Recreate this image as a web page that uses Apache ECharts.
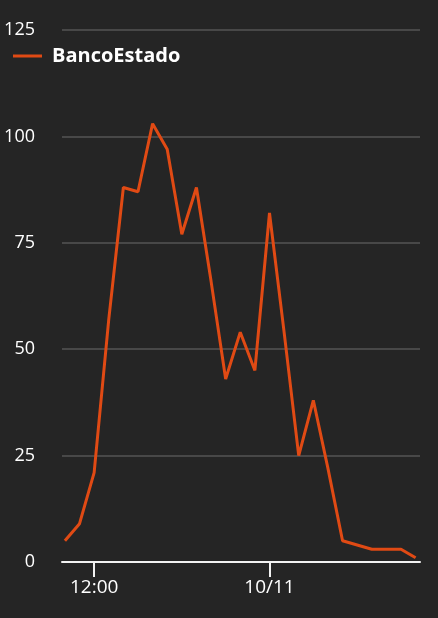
<!DOCTYPE html>
<html>
<head>
<meta charset="utf-8">
<script src="https://cdn.jsdelivr.net/npm/echarts@6/dist/echarts.min.js"></script>
<style>
  html, body { margin: 0; padding: 0; background: #252525; }
  #chart { width: 438px; height: 618px; }
</style>
</head>
<body>
<div id="chart"></div>
<script>
// hours since 10:00 on 10/10, one point per hour
const hours = [0, 1, 2, 3, 4, 5, 6, 7, 8, 9, 10, 11, 12, 13, 14, 15, 16, 17, 18, 19, 20, 21, 22, 23, 24]
const bancoEstado = [5, 9, 21, 57, 88, 87, 103, 97, 77, 88, 66, 43, 54, 45, 82, 54, 25, 38, 22, 5, 4, 3, 3, 3, 1]
const seriesName = 'BancoEstado'

// x tick positions (hours) and their labels
const xTickValues = [2, 14]
const xTickLabels = ['12:00', '10/11']
const yTicks = [0, 25, 50, 75, 100, 125]

const chart = echarts.init(document.getElementById('chart'))

chart.setOption({
  backgroundColor: '#252525',
  textStyle: { fontFamily: 'Open Sans' },
  animation: false,
  legend: {
    left: 8,
    top: 41,
    icon: 'rect',
    itemWidth: 29,
    itemHeight: 3,
    itemGap: 10,
    textStyle: {
      color: '#fff', fontSize: 20, fontWeight: 'bold', fontFamily: 'Open Sans',
      padding: [0, 0, 0, 5]
    },
    data: [seriesName]
  },
  grid: { left: 62, right: 18, top: 30, bottom: 56 },
  xAxis: {
    type: 'value',
    min: -0.2,
    max: 24.3,
    splitLine: { show: false },
    axisLine: { show: true, onZero: false, lineStyle: { color: '#f2f2f2', width: 2 } },
    axisTick: {
      show: true,
      length: 15,
      customValues: xTickValues,
      lineStyle: { color: '#f2f2f2', width: 2 }
    },
    axisLabel: {
      color: '#fff',
      fontSize: 19,
      margin: 16,
      customValues: xTickValues,
      formatter: (v) => xTickLabels[xTickValues.indexOf(v)]
    }
  },
  yAxis: {
    type: 'value',
    min: yTicks[0],
    max: yTicks[yTicks.length - 1],
    interval: 25,
    axisLine: { show: false },
    axisTick: { show: false },
    axisLabel: { color: '#fff', fontSize: 18, margin: 27 },
    splitLine: { lineStyle: { color: '#555', width: 1.5 } }
  },
  series: [{
    name: seriesName,
    type: 'line',
    data: hours.map((h, i) => [h, bancoEstado[i]]),
    showSymbol: false,
    color: '#e04a14',
    lineStyle: { color: '#e04a14', width: 3 }
  }]
})
</script>
</body>
</html>
